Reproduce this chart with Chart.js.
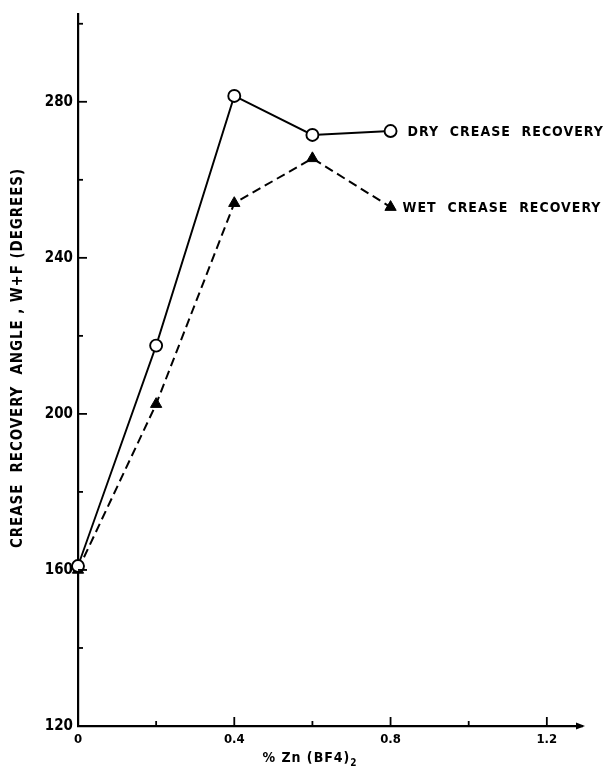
<!DOCTYPE html>
<html>
<head>
<meta charset="utf-8">
<script src="https://cdn.jsdelivr.net/npm/chart.js@4.4.1/dist/chart.umd.min.js"></script>
<style>
  html, body { margin: 0; padding: 0; background: #fff; }
  canvas { display: block; }
</style>
</head>
<body>
<canvas id="chart" width="606" height="770"></canvas>
<script>
// Zn(BF4)2 concentration, percent
const zincPercent = [0, 0.2, 0.4, 0.6, 0.8];
// Crease recovery angle, W+F, degrees
const dryRecovery = [161, 217.5, 281.5, 271.5, 272.5];
const wetRecovery = [160, 202.5, 254, 265.5, 253];
const seriesNames = ['DRY  CREASE  RECOVERY', 'WET  CREASE  RECOVERY'];

// Axis ticks: every tick gets a mark, only some get a label
const xTickValues = [0, 0.2, 0.4, 0.6, 0.8, 1.0, 1.2];
const xTickLabels = { 0: '0', 0.4: '0.4', 0.8: '0.8', 1.2: '1.2' };
const yTickValues = [120, 140, 160, 180, 200, 220, 240, 260, 280, 300];
const yTickLabels = [120, 160, 200, 240, 280];

const yTitle = 'CREASE  RECOVERY  ANGLE , W+F (DEGREES)';
const xTitle = '% Zn (BF4)';
const xTitleSub = '2';

const FAMILY = "'DejaVu Sans Condensed', 'DejaVu Sans', sans-serif";

const toPoints = (xs, ys) => xs.map((v, i) => ({ x: v, y: ys[i] }));

// Inward tick marks, axis arrow, series names and axis titles
const inkPlugin = {
  id: 'ink',
  afterDatasetsDraw(chart) {
    const { ctx, chartArea, scales: { x, y } } = chart;
    ctx.save();
    ctx.strokeStyle = '#000';
    ctx.fillStyle = '#000';
    ctx.lineWidth = 1.8;
    ctx.lineCap = 'butt';

    y.ticks.forEach(t => {
      const py = y.getPixelForValue(t.value);
      const len = yTickLabels.includes(t.value) ? 9 : 5;
      ctx.beginPath();
      ctx.moveTo(chartArea.left, py);
      ctx.lineTo(chartArea.left + len, py);
      ctx.stroke();
    });
    x.ticks.forEach(t => {
      const px = x.getPixelForValue(t.value);
      const len = (t.value in xTickLabels) ? 9 : 5;
      ctx.beginPath();
      ctx.moveTo(px, chartArea.bottom);
      ctx.lineTo(px, chartArea.bottom - len);
      ctx.stroke();
    });

    // arrowhead at the end of the x axis
    const ax = chartArea.right + 3, ay = chartArea.bottom;
    ctx.beginPath();
    ctx.moveTo(ax, ay);
    ctx.lineTo(ax - 9, ay - 3.5);
    ctx.lineTo(ax - 9, ay + 3.5);
    ctx.closePath();
    ctx.fill();

    // series names beside the last point of each line
    ctx.font = `bold 14px ${FAMILY}`;
    ctx.letterSpacing = '1px';
    ctx.textAlign = 'left';
    ctx.textBaseline = 'middle';
    const offsets = [17, 12];
    chart.data.datasets.forEach((ds, i) => {
      const meta = chart.getDatasetMeta(i);
      const last = meta.data[meta.data.length - 1];
      ctx.fillText(seriesNames[i], last.x + offsets[i], last.y + 1);
    });

    // y axis title
    ctx.save();
    ctx.font = `bold 15px ${FAMILY}`;
    ctx.letterSpacing = '0.9px';
    ctx.translate(18, 358);
    ctx.rotate(-Math.PI / 2);
    ctx.textAlign = 'center';
    ctx.fillText(yTitle, 0, 0);
    ctx.restore();

    // x axis title with subscript
    ctx.font = `bold 14px ${FAMILY}`;
    ctx.letterSpacing = '1px';
    const mainW = ctx.measureText(xTitle).width;
    ctx.font = `bold 10px ${FAMILY}`;
    const subW = ctx.measureText(xTitleSub).width;
    const startX = 310 - (mainW + subW) / 2;
    ctx.font = `bold 14px ${FAMILY}`;
    ctx.textAlign = 'left';
    ctx.fillText(xTitle, startX, 758);
    ctx.font = `bold 10px ${FAMILY}`;
    ctx.fillText(xTitleSub, startX + mainW, 763);

    ctx.restore();
  }
};

new Chart(document.getElementById('chart'), {
  type: 'line',
  data: {
    datasets: [
      {
        label: seriesNames[0],
        data: toPoints(zincPercent, dryRecovery),
        borderColor: '#000',
        borderWidth: 1.9,
        pointStyle: 'circle',
        pointRadius: 6,
        pointBorderWidth: 1.9,
        pointBorderColor: '#000',
        pointBackgroundColor: '#fff',
        tension: 0,
        clip: false
      },
      {
        label: seriesNames[1],
        data: toPoints(zincPercent, wetRecovery),
        borderColor: '#000',
        borderWidth: 2,
        borderDash: [9, 5],
        pointStyle: 'triangle',
        pointRadius: 6.5,
        pointBorderWidth: 1,
        pointBorderColor: '#000',
        pointBackgroundColor: '#000',
        tension: 0,
        clip: false
      }
    ]
  },
  options: {
    responsive: false,
    animation: false,
    devicePixelRatio: 1,
    layout: { padding: { top: 12, right: 24, left: 0, bottom: 0 } },
    plugins: {
      legend: { display: false },
      tooltip: { enabled: false }
    },
    scales: {
      x: {
        type: 'linear',
        min: 0,
        max: 1.29,
        afterBuildTicks: s => { s.ticks = xTickValues.map(v => ({ value: v })); },
        afterFit: s => { s.height = 44; },
        grid: { display: true, drawOnChartArea: false, drawTicks: false },
        border: { display: true, color: '#000', width: 2.2 },
        ticks: {
          padding: 6,
          maxRotation: 0,
          autoSkip: false,
          color: '#000',
          font: { family: FAMILY, size: 13, weight: 'bold' },
          callback: v => (v in xTickLabels ? xTickLabels[v] : '')
        }
      },
      y: {
        type: 'linear',
        min: 120,
        max: 302.5,
        afterBuildTicks: s => { s.ticks = yTickValues.map(v => ({ value: v })); },
        afterFit: s => { s.width = 78; },
        grid: { display: true, drawOnChartArea: false, drawTicks: false },
        border: { display: true, color: '#000', width: 2.2 },
        ticks: {
          padding: 5,
          autoSkip: false,
          color: '#000',
          font: { family: FAMILY, size: 15, weight: 'bold' },
          callback: v => (yTickLabels.includes(v) ? String(v) : '')
        }
      }
    }
  },
  plugins: [inkPlugin]
});
</script>
</body>
</html>
